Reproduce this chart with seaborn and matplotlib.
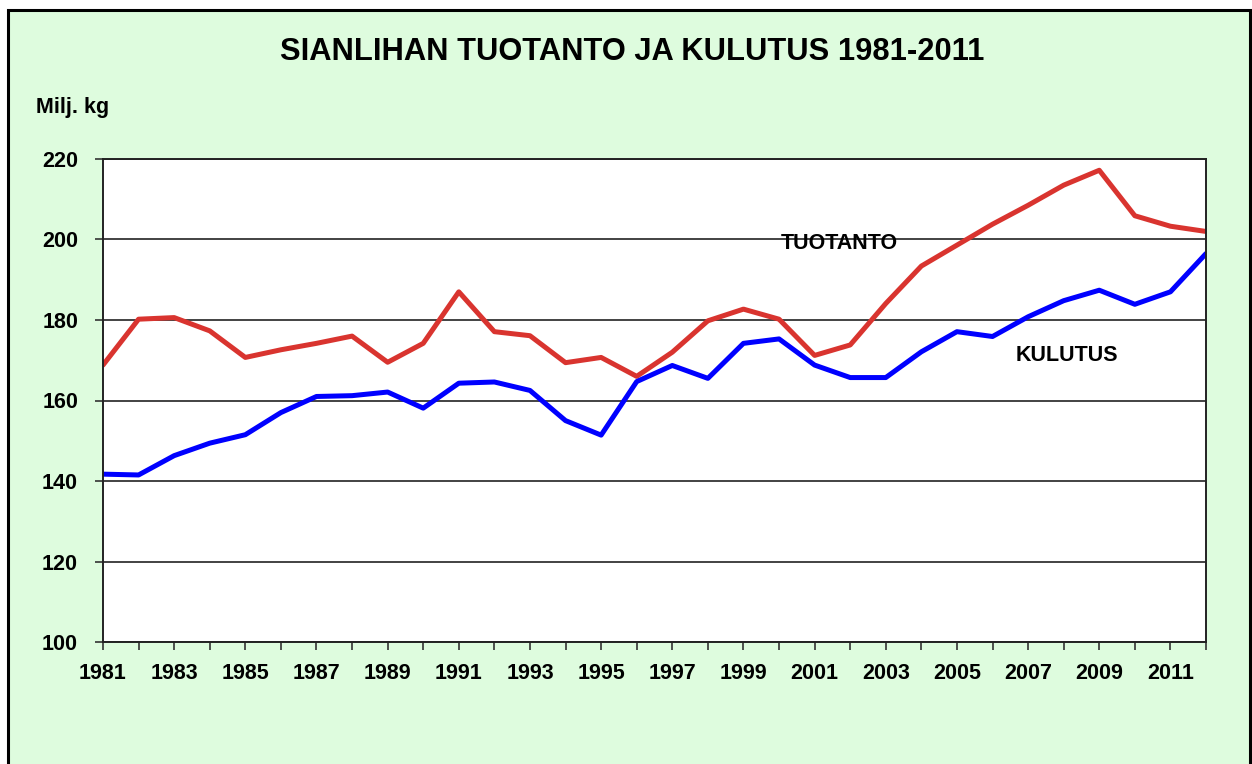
import matplotlib
matplotlib.use('Agg')
import matplotlib.pyplot as plt
from matplotlib.patches import Rectangle
import pandas as pd
import seaborn as sns

# data (milj. kg)
years = list(range(1981, 2013))
tuotanto = [168.8, 180.2, 180.6, 177.3, 170.7, 172.6, 174.2, 176.0, 169.5, 174.2,
            187.0, 177.1, 176.1, 169.4, 170.7, 166.0, 172.0, 179.8, 182.7, 180.2,
            171.2, 173.8, 184.1, 193.4, 198.6, 203.8, 208.5, 213.5, 217.2, 205.9,
            203.3, 202.0]
kulutus = [141.7, 141.5, 146.3, 149.4, 151.5, 157.0, 161.0, 161.2, 162.1, 158.1,
           164.3, 164.6, 162.5, 155.0, 151.4, 164.7, 168.7, 165.5, 174.2, 175.3,
           168.8, 165.7, 165.7, 172.1, 177.1, 175.9, 180.8, 184.8, 187.4, 183.9,
           187.0, 196.5]
series_names = ['TUOTANTO', 'KULUTUS']
series_colors = ['#D9342F', '#0000FF']
yticks = [100, 120, 140, 160, 180, 200, 220]

df = pd.DataFrame({'vuosi': years * 2,
                   'milj_kg': tuotanto + kulutus,
                   'sarja': [series_names[0]] * len(years) + [series_names[1]] * len(years)})

sns.set_style('white')
plt.rcParams['font.family'] = ['Liberation Sans', 'DejaVu Sans']
plt.rcParams['font.weight'] = 'bold'
plt.rcParams['text.color'] = 'black'
plt.rcParams['xtick.color'] = 'black'
plt.rcParams['ytick.color'] = 'black'

fig = plt.figure(figsize=(12.52, 7.64), dpi=100, facecolor='white')

# green chart area with black frame
W, H = 1252, 764
frame = Rectangle((8 / W, -0.05), (1250 - 8) / W, 1.05 - 10 / H,
                  transform=fig.transFigure, facecolor='#DEFCDE',
                  edgecolor='black', linewidth=2.2, zorder=-10)
fig.patches.append(frame)

ax = fig.add_axes([103 / W, 1 - 642 / H, (1206 - 103) / W, (642 - 159) / H])
ax.set_zorder(5)
ax.set_facecolor('white')

sns.lineplot(data=df, x='vuosi', y='milj_kg', hue='sarja',
             palette=dict(zip(series_names, series_colors)),
             linewidth=3.6, ax=ax, legend=False)

ax.set_xlim(1981, 2012)
ax.set_ylim(100, 220)
ax.set_yticks(yticks)
ax.set_xticks(years)
ax.set_xticklabels([str(y) if y % 2 == 1 else '' for y in years])
ax.grid(axis='y', color='#222222', linewidth=1.2)
ax.set_axisbelow(True)
ax.tick_params(axis='both', direction='out', length=6, width=1.2, color='#333333',
               labelsize=15.5, pad=9)
ax.tick_params(axis='x', bottom=True)
ax.tick_params(axis='y', left=True, pad=12)
for lab in ax.get_xticklabels() + ax.get_yticklabels():
    lab.set_fontweight('bold')
for sp in ax.spines.values():
    sp.set_visible(True)
    sp.set_color('#222222')
    sp.set_linewidth(1.4)
ax.set_xlabel('')
ax.set_ylabel('')

ax.text(2001.7, 199.1, 'TUOTANTO', ha='center', va='center', fontsize=15.5, fontweight='bold')
ax.text(2008.1, 171.1, 'KULUTUS', ha='center', va='center', fontsize=15.5, fontweight='bold')

fig.text(0.505, 1 - 52 / H, 'SIANLIHAN TUOTANTO JA KULUTUS 1981-2011',
         ha='center', va='center', fontsize=22.2, fontweight='bold')
fig.text(36 / W, 1 - 107 / H, 'Milj. kg', ha='left', va='center',
         fontsize=15.5, fontweight='bold')

fig.savefig('out.png', dpi=100, facecolor='white')
